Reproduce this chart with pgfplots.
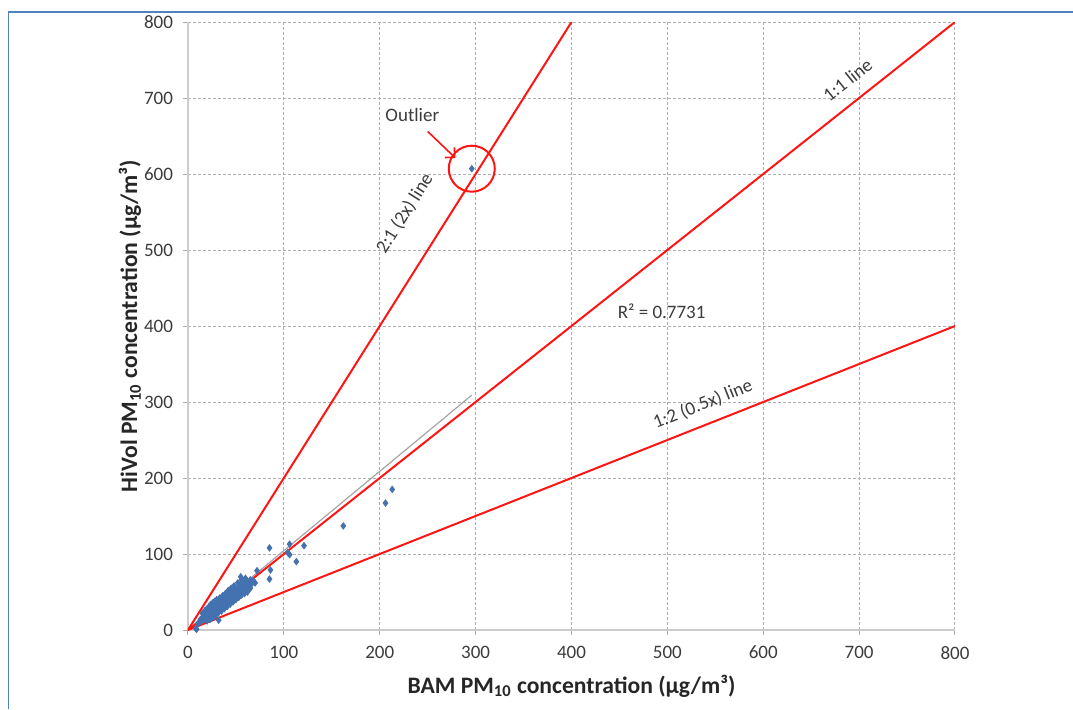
\documentclass[border=0pt]{standalone}
\usepackage{fontspec}
\setmainfont{Carlito}
\usepackage{pgfplots}
\pgfplotsset{compat=1.18}
\usetikzlibrary{arrows.meta}

\definecolor{ptblue}{RGB}{68,114,176}
\definecolor{linered}{RGB}{255,20,20}
\definecolor{trendgray}{RGB}{165,165,165}
\definecolor{gridgray}{RGB}{175,175,175}
\definecolor{axisgray}{RGB}{205,205,205}
\definecolor{txtgray}{RGB}{60,60,60}
\definecolor{frameblue}{RGB}{79,129,189}

\begin{document}
\begin{tikzpicture}
  \useasboundingbox (-94pt,-39.5pt) rectangle (442.5pt,315pt);
  \draw[frameblue, line width=0.9pt] (-89.75pt,-39.5pt) -- (-89.75pt,309pt) -- (442.5pt,309pt);
  \begin{axis}[
      at={(0,0)}, anchor=south west,
      width=383.5pt, height=304pt, scale only axis,
      xmin=0, xmax=800, ymin=0, ymax=800,
      xtick distance=100, ytick distance=100,
      axis lines=left,
      axis line style={-, axisgray, line width=0.9pt},
      tick align=outside,
      major tick length=2.5pt,
      tick style={gridgray, line width=0.5pt},
      grid=major,
      major grid style={gridgray, dash pattern=on 1.5pt off 1pt, line width=0.5pt},
      ticklabel style={font=\fontsize{9.5}{11}\selectfont, text=txtgray},
      xticklabel style={yshift=-2pt},
      yticklabel style={xshift=-1.5pt},
      /pgf/number format/assume math mode=true,
      xlabel={BAM PM\textsubscript{10} concentration (µg/m³)},
      ylabel={HiVol PM\textsubscript{10} concentration (µg/m³)},
      label style={font=\bfseries\fontsize{11.8}{13}\selectfont, text=black!85},
      xlabel style={at={(axis description cs:0.5,-0.0921)}, anchor=center},
      ylabel style={at={(axis description cs:-0.0756,0.5)}, anchor=center},
      clip=true,
    ]
    % trend line
    \addplot[trendgray, line width=0.6pt] coordinates {(0,0) (296,309)};
    % reference lines
    \addplot[linered, line width=1pt] coordinates {(0,0) (400,800)};
    \addplot[linered, line width=1pt] coordinates {(0,0) (800,800)};
    \addplot[linered, line width=1pt] coordinates {(0,0) (800,400)};
    % measurements
    \addplot[only marks, mark=diamond*, mark size=1.6pt, color=ptblue] coordinates {
      (8,2) (9,1) (10,8) (12,10) (13,14) (14,12) (15,16) (16,13) (17,18) (18,15)
      (18,20) (19,17) (20,22) (20,18) (21,16) (22,24) (22,20) (23,19) (24,26) (24,22)
      (25,21) (25,28) (26,24) (26,30) (27,22) (27,26) (28,33) (28,28) (28,18) (29,25)
      (29,31) (30,27) (30,35) (30,22) (31,29) (31,34) (32,13) (32,30) (32,26) (32,37)
      (33,31) (33,35) (34,28) (34,38) (35,33) (35,36) (35,30) (36,39) (36,34) (37,31)
      (37,40) (38,36) (38,42) (38,33) (39,38) (39,44) (40,35) (40,40) (40,37) (41,42)
      (41,38) (42,45) (42,36) (43,40) (43,47) (44,42) (44,38) (45,44) (45,50) (46,40)
      (46,46) (47,43) (47,52) (48,45) (48,49) (49,42) (50,47) (50,53) (51,50) (51,44)
      (52,55) (53,48) (53,51) (54,56) (55,52) (55,70) (56,49) (57,58) (57,54) (58,60)
      (59,52) (60,57) (60,62) (61,55) (62,64) (63,58) (64,61) (65,66) (66,60) (68,65)
      (15,22) (18,26) (20,28) (22,31) (24,34) (26,36) (28,38) (30,40) (33,42) (36,45)
      (39,48) (42,52) (45,55) (48,58) (52,62) (56,66) (60,68)
      (20,12) (23,14) (26,17) (29,20) (32,23) (35,25) (38,28) (41,31) (44,34) (47,37)
      (50,40) (53,43) (56,46) (59,48) (62,50) (65,55)
      (27,34) (31,38) (34,41) (37,35) (40,44) (43,36) (46,50) (49,54) (52,46) (55,58)
      (58,50) (61,60) (64,56) (67,62)
      (70,62) (72,78) (85,67) (86,79) (85,108) (104,102) (106,99) (106,113) (113,90)
      (121,111) (162,137) (206,167) (213,185) (296,607)
    };
    % annotations
    \draw[linered, line width=1pt] (axis cs:296,607) circle[radius=11.5pt];
    \draw[linered, line width=0.8pt, ->, >={Straight Barb[length=3.5pt]}] (axis cs:250,656) to (axis cs:279,621);
    \node[font=\fontsize{9.5}{11}\selectfont, text=txtgray] at (axis cs:234,678) {Outlier};
    \node[font=\fontsize{9.5}{11}\selectfont, text=txtgray, rotate=57.8] at (axis cs:226,548) {2:1 (2x) line};
    \node[font=\fontsize{9.5}{11}\selectfont, text=txtgray, rotate=38.4] at (axis cs:688,724) {1:1 line};
    \node[font=\fontsize{9.5}{11}\selectfont, text=txtgray] at (axis cs:494,420) {R² = 0.7731};
    \node[font=\fontsize{9.5}{11}\selectfont, text=txtgray, rotate=21.6] at (axis cs:537,297) {1:2 (0.5x) line};
  \end{axis}
\end{tikzpicture}
\end{document}
